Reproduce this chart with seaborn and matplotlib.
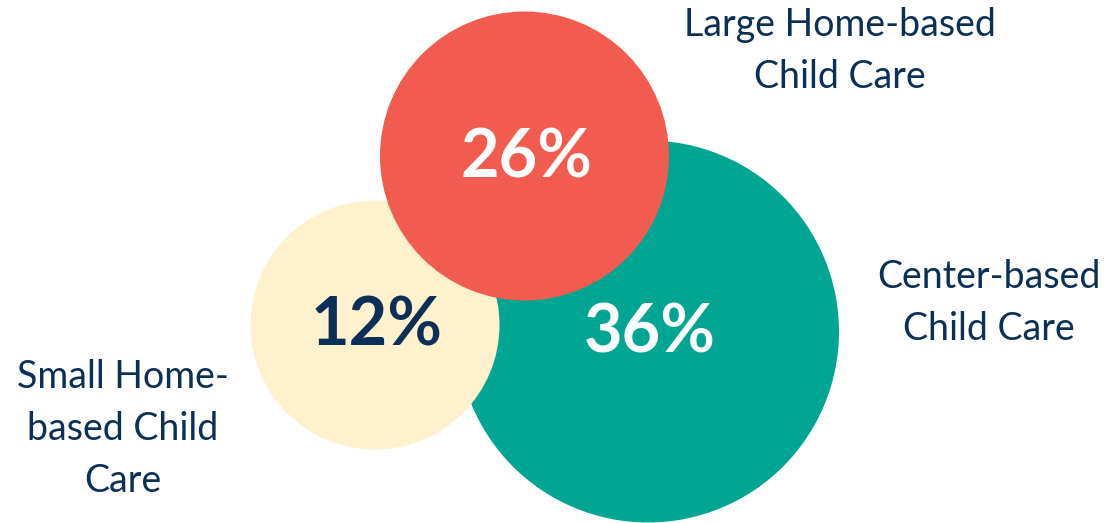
import matplotlib
matplotlib.use("Agg")
import matplotlib.pyplot as plt
import pandas as pd
import seaborn as sns

# Share of providers by child care setting
categories = ["Center-based Child Care", "Small Home-based Child Care", "Large Home-based Child Care"]
shares = [36, 12, 26]
category_labels = ["Center-based\nChild Care", "Small Home-\nbased Child\nCare", "Large Home-based\nChild Care"]

# Bubble layout (canvas pixels) and bubble diameters (pixels)
bubble_x = [648, 375, 524.5]
bubble_y = [331.5, 325, 156]
bubble_diam = [382, 249, 289]
label_pos = [(989, 303), (123, 429), (840, 51)]

palette = {
    "Center-based Child Care": "#00A691",
    "Small Home-based Child Care": "#FFF0CE",
    "Large Home-based Child Care": "#F25C50",
}
value_colors = ["white", "#0B3057", "white"]
navy = "#0B3057"

W, H, DPI = 1111, 523, 100
sns.set_theme(style="white")
plt.rcParams["font.family"] = ["Lato", "DejaVu Sans"]

df = pd.DataFrame({
    "category": categories,
    "share": shares,
    "x": bubble_x,
    "y": bubble_y,
})
pt_per_px = 72 / DPI
size_map = {s: (d * pt_per_px) ** 2 for s, d in zip(shares, bubble_diam)}

fig = plt.figure(figsize=(W / DPI, H / DPI), dpi=DPI)
ax = fig.add_axes([0, 0, 1, 1])
sns.scatterplot(
    data=df, x="x", y="y", hue="category", palette=palette,
    size="share", sizes=size_map, linewidth=0, legend=False, ax=ax, zorder=2,
)
ax.set_xlim(0, W)
ax.set_ylim(H, 0)
ax.set_axis_off()

for x, y, s, c in zip(df["x"], df["y"], df["share"], value_colors):
    ax.text(x + 2, y + 2, f"{s}%", ha="center", va="center", color=c,
            fontsize=48, fontweight="bold", zorder=3)

for (lx, ly), lab in zip(label_pos, category_labels):
    ax.text(lx, ly, lab, ha="center", va="center", color=navy,
            fontsize=27, linespacing=1.55, zorder=3)

fig.savefig("out.png", dpi=DPI)
